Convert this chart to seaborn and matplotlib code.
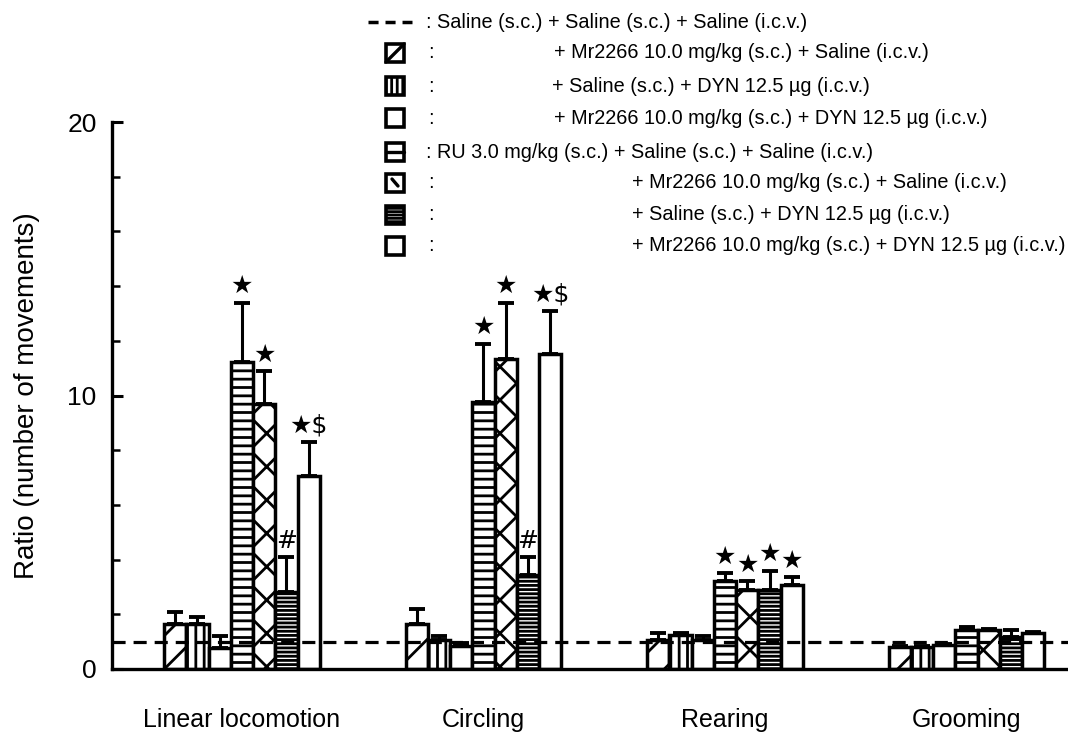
import numpy as np
import pandas as pd
import matplotlib
matplotlib.use("Agg")
import matplotlib.pyplot as plt
import seaborn as sns
from matplotlib.patches import Rectangle
from matplotlib.lines import Line2D

# ---------------- data ----------------
categories = ["Linear locomotion", "Circling", "Rearing", "Grooming"]
treatments = [
    "Saline + Mr2266 + Saline",
    "Saline + Saline + DYN",
    "Saline + Mr2266 + DYN",
    "RU + Saline + Saline",
    "RU + Mr2266 + Saline",
    "RU + Saline + DYN",
    "RU + Mr2266 + DYN",
]
linear_vals = [1.64, 1.64, 0.77, 11.24, 9.70, 2.80, 7.04]
linear_errs = [0.46, 0.26, 0.43, 2.16, 1.20, 1.30, 1.26]
circling_vals = [1.64, 1.06, 0.85, 9.78, 11.35, 3.43, 11.50]
circling_errs = [0.56, 0.14, 0.10, 2.12, 2.05, 0.67, 1.60]
rearing_vals = [1.06, 1.24, 1.06, 3.20, 2.90, 2.90, 3.07]
rearing_errs = [0.26, 0.06, 0.14, 0.30, 0.30, 0.70, 0.29]
grooming_vals = [0.80, 0.80, 0.88, 1.42, 1.42, 1.17, 1.30]
grooming_errs = [0.05, 0.05, 0.05, 0.11, 0.05, 0.25, 0.05]

linear_marks = ["", "", "", "★", "★", "#", "★$"]
circling_marks = ["", "", "", "★", "★", "#", "★$"]
rearing_marks = ["", "", "", "★", "★", "★", "★"]
grooming_marks = ["", "", "", "", "", "", ""]

control_level = 1.0

legend_lines = [
    ": Saline (s.c.) + Saline (s.c.) + Saline (i.c.v.)",
    "+ Mr2266 10.0 mg/kg (s.c.) + Saline (i.c.v.)",
    "+ Saline (s.c.) + DYN 12.5 µg (i.c.v.)",
    "+ Mr2266 10.0 mg/kg (s.c.) + DYN 12.5 µg (i.c.v.)",
    ": RU 3.0 mg/kg (s.c.) + Saline (s.c.) + Saline (i.c.v.)",
    "+ Mr2266 10.0 mg/kg (s.c.) + Saline (i.c.v.)",
    "+ Saline (s.c.) + DYN 12.5 µg (i.c.v.)",
    "+ Mr2266 10.0 mg/kg (s.c.) + DYN 12.5 µg (i.c.v.)",
]

hatches = ["/", "||", "", "--", "x", "----", ""]

vals_by_cat = [linear_vals, circling_vals, rearing_vals, grooming_vals]
errs_by_cat = [linear_errs, circling_errs, rearing_errs, grooming_errs]
marks_by_cat = [linear_marks, circling_marks, rearing_marks, grooming_marks]

rows = []
for c, vals, errs in zip(categories, vals_by_cat, errs_by_cat):
    for t, v, e in zip(treatments, vals, errs):
        rows.append({"category": c, "treatment": t, "value": v, "err": e})
df = pd.DataFrame(rows)

# ---------------- style ----------------
sns.set_style("ticks")
plt.rcParams["font.family"] = ["Liberation Sans", "DejaVu Sans"]
plt.rcParams["hatch.linewidth"] = 2.0
for k in ["text.color", "axes.labelcolor", "xtick.color", "ytick.color", "axes.edgecolor"]:
    plt.rcParams[k] = "black"

W, H = 1068, 734
fig = plt.figure(figsize=(W / 100, H / 100), dpi=100)
ax = fig.add_axes([112 / W, (H - 669) / H, (W - 112) / W, (669 - 122) / H])

sns.barplot(data=df, x="category", y="value", hue="treatment",
            order=categories, hue_order=treatments,
            palette=["white"] * len(treatments), edgecolor="black",
            linewidth=2.5, width=0.645, gap=0, errorbar=None, legend=False,
            ax=ax, zorder=2)

bar_conts = list(ax.containers)
for cont, h in zip(bar_conts, hatches):
    for bar in cont:
        bar.set_hatch(h)
        bar.set_facecolor("white")
        bar.set_edgecolor("black")

# error bars and significance marks
for ti, cont in enumerate(bar_conts):
    xs = [b.get_x() + b.get_width() / 2 for b in cont]
    ys = [b.get_height() for b in cont]
    errs = [errs_by_cat[ci][ti] for ci in range(len(categories))]
    ax.errorbar(xs, ys, yerr=[np.zeros(len(errs)), errs], fmt="none",
                ecolor="black", elinewidth=2.2, capsize=5.5, capthick=2.8, zorder=3)
    for ci in range(len(categories)):
        m = marks_by_cat[ci][ti]
        if m:
            ax.annotate(m, (xs[ci], ys[ci] + errs[ci]), xytext=(0, 3),
                        textcoords="offset points", ha="center", va="bottom",
                        fontsize=18, family=["DejaVu Sans"], color="black",
                        zorder=4)

ax.axhline(control_level, color="black", lw=2.3, ls=(0, (4.1, 2.5)), zorder=5)

ax.set_xlim(-0.538, 3.42)
ax.set_ylim(0, 20)
ax.set_yticks([0, 10, 20])
ax.set_yticks(np.arange(0, 21, 2), minor=True)
ax.tick_params(axis="y", direction="in", length=8, width=2.2, labelsize=19, pad=11)
ax.tick_params(axis="y", which="minor", direction="in", length=6, width=1.8)
ax.tick_params(axis="x", length=0, labelsize=18, pad=28)
ax.set_xlabel("")
ax.set_ylabel("Ratio (number of movements)", fontsize=20, labelpad=20)
sns.despine(ax=ax)
for s in ["left", "bottom"]:
    ax.spines[s].set_linewidth(2.4)
    ax.spines[s].set_color("black")

# ---------------- custom legend ----------------
def fx(x):
    return x / W

def fy(y):
    return 1 - y / H

line_y = [22, 53, 86, 118, 152, 183, 215, 246]
text_x = [426, 554, 552, 554, 426, 632, 632, 632]
sym_hatch = [None, None, "|||", None, None, None, "-----", None]
fs_leg = 14.3
sx0, sx1 = 386, 404

for i, (txt, y, x) in enumerate(zip(legend_lines, line_y, text_x)):
    fig.text(fx(x), fy(y), txt, fontsize=fs_leg, ha="left", va="center")
    if i == 0:
        fig.add_artist(Line2D([fx(368), fx(412)], [fy(y), fy(y)], color="black",
                              lw=2.5, ls=(0, (2.9, 2.0)), transform=fig.transFigure))
        continue
    fig.add_artist(Rectangle((fx(sx0), fy(y + 9)), (sx1 - sx0) / W, 18 / H,
                             facecolor="white", edgecolor="black", lw=2.6,
                             hatch=sym_hatch[i], transform=fig.transFigure))
    if i == 1:
        fig.add_artist(Line2D([fx(sx0), fx(sx1)], [fy(y + 9), fy(y - 9)],
                              color="black", lw=2.4, transform=fig.transFigure))
    elif i == 4:
        fig.add_artist(Line2D([fx(sx0), fx(sx1)], [fy(y), fy(y)],
                              color="black", lw=2.4, transform=fig.transFigure))
    elif i == 5:
        fig.add_artist(Line2D([fx(sx0 + 6), fx(sx0 + 12)], [fy(y - 4), fy(y + 3)],
                              color="black", lw=2.4, transform=fig.transFigure))
    if i != 4:
        fig.text(fx(428), fy(y), ":", fontsize=fs_leg, ha="left", va="center")

fig.savefig("out.png", dpi=100)
